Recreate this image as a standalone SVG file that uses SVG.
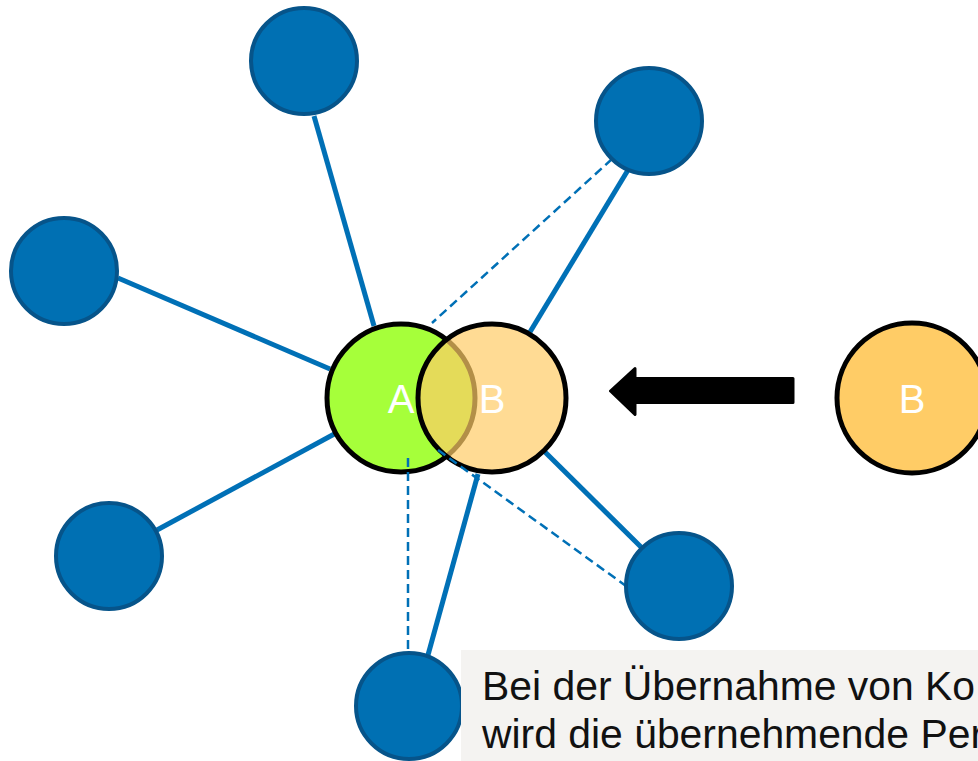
<svg xmlns="http://www.w3.org/2000/svg" width="978" height="761" viewBox="0 0 978 761">
<style>
.edge{stroke:#0070b6;stroke-width:5;fill:none}
.dash{stroke:#0070b6;stroke-width:2.5;fill:none;stroke-dasharray:9 5}
.node{fill:#0070b3;stroke:#06548a;stroke-width:4}
.big{stroke:#000;stroke-width:5}
.lbl{font-family:"Liberation Sans",Arial,sans-serif;font-size:40px;fill:#fff;text-anchor:middle}
.cap{font-family:"Liberation Sans",Arial,sans-serif;font-size:41px;fill:#111}
</style>
<rect width="978" height="761" fill="#fff"/>
<g id="connectors">
<line class="edge" x1="314" y1="116" x2="374" y2="326"/>
<line class="edge" x1="118" y1="278" x2="330" y2="369"/>
<line class="edge" x1="157" y1="530" x2="338" y2="432"/>
<line class="edge" x1="628" y1="170" x2="530" y2="332"/>
<line class="edge" x1="642" y1="548" x2="545" y2="452"/>
<line class="edge" x1="428" y1="655" x2="478" y2="474"/>
</g>
<g id="nodeA">
<circle class="big" cx="401" cy="398" r="74" fill="#a6ff3a"/>
<text class="lbl" x="401" y="413">A</text>
</g>
<g id="nodeB">
<circle cx="492" cy="398" r="74" fill="#ffcc66" fill-opacity="0.7" stroke="#000" stroke-width="5"/>
<text class="lbl" x="492" y="413">B</text>
</g>
<g id="dashed-connectors">
<line class="dash" x1="612" y1="159" x2="432" y2="323"/>
<line class="dash" x1="408" y1="458" x2="408" y2="652"/>
<line class="dash" x1="438" y1="450" x2="626" y2="586"/>
</g>
<g id="n1"><circle class="node" cx="304" cy="61" r="53"/></g>
<g id="n2"><circle class="node" cx="649" cy="121" r="53"/></g>
<g id="n3"><circle class="node" cx="64" cy="271" r="53"/></g>
<g id="n4"><circle class="node" cx="109" cy="556" r="53"/></g>
<g id="n5"><circle class="node" cx="409" cy="706" r="53"/></g>
<g id="n6"><circle class="node" cx="679" cy="586" r="53"/></g>
<g id="arrow">
<path d="M793,378.5 L635,378.5 L635,368.5 L610.5,391 L635,414.5 L635,402.5 L793,402.5 Z" fill="#000" stroke="#000" stroke-width="3" stroke-linejoin="round"/>
</g>
<g id="nodeB2">
<circle class="big" cx="912" cy="398" r="75" fill="#ffcc66"/>
<text class="lbl" x="912" y="413">B</text>
</g>
<g id="caption">
<rect x="461" y="650" width="517" height="111" fill="#f4f3f1"/>
<text class="cap" x="482" y="700" textLength="493" lengthAdjust="spacingAndGlyphs">Bei der Übernahme von Ko</text>
<text class="cap" x="482" y="748" textLength="502" lengthAdjust="spacingAndGlyphs">wird die übernehmende Per</text>
</g>
</svg>
